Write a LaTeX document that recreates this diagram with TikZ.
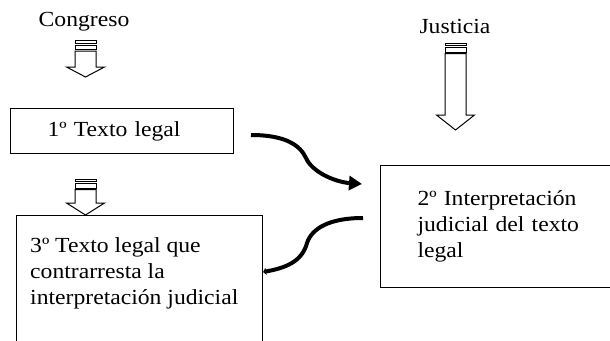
\documentclass[tikz,border=0pt]{standalone}
\usepackage{fontspec}
\setmainfont[FakeStretch=1.1]{Liberation Serif}
\usetikzlibrary{arrows.meta}
% striped block arrow: x centre, top, head base, tip (all in px, y downwards)
\newcommand\mystripedarrow[4]{%
  \draw[arrowline] ({#1-10.5},#2) rectangle ({#1+10.5},{#2+2.5});
  \draw[arrowline] ({#1-10.5},{#2+4.5}) rectangle ({#1+10.5},{#2+9});
  \draw[arrowline] ({#1-10.5},{#2+10.5}) -- ({#1-10.5},#3) -- ({#1-19},#3)
     -- (#1,#4) -- ({#1+19},#3) -- ({#1+10.5},#3) -- ({#1+10.5},{#2+10.5}) -- cycle;
}
\begin{document}
\begin{tikzpicture}[x=1pt,y=-1pt,
  lbl/.style={font=\fontsize{21.5}{26}\selectfont, inner sep=0pt},
  box/.style={draw, line width=1.1pt, anchor=north west, inner ysep=0pt},
  arrowline/.style={draw, line width=1pt, fill=white, line join=miter},
  flow/.style={line width=4pt}]
\clip (0,0) rectangle (610,340);
% titles
\node[lbl, anchor=base] (congreso) at (84,27) {Congreso};
\node[lbl, anchor=base] (justicia) at (455,33) {Justicia};
% block arrows
\mystripedarrow{85.5}{40.7}{67}{77}
\mystripedarrow{85.5}{179}{203}{215}
\mystripedarrow{455.5}{43}{115}{130}
% boxes
\node[box, lbl, inner xsep=37pt, text width=149pt, align=left, minimum height=45pt] (b1) at (10,108) {1º Texto legal};
\node[box, lbl, inner xsep=37pt, text width=175pt, align=left, minimum height=122pt] (b2) at (380,165) {2º Interpretación\\judicial del texto\\legal};
\node[box, minimum width=246pt, minimum height=140pt, inner sep=0pt] (b3) at (16,215) {};
\node[lbl, anchor=north west, align=left] (t3) at (30,237.5) {3º Texto legal que\\contrarresta la\\interpretación judicial};
% curved connectors
\coordinate (s1) at (251,135);
\coordinate (e1) at (362,184);
\draw[flow, -{Triangle[length=13pt,width=14pt]}] (s1) .. controls (285,135) and (300,145) .. (306,158) .. controls (312,172) and (335,182) .. (e1);
\coordinate (s2) at (363,218);
\coordinate (e2) at ([yshift=-57pt]b3.north east);
\draw[flow, -{Triangle[length=3pt,width=7pt]}] (s2) .. controls (330,218) and (312,228) .. (307,243) .. controls (302,262) and (285,268) .. (e2);
\end{tikzpicture}
\end{document}
